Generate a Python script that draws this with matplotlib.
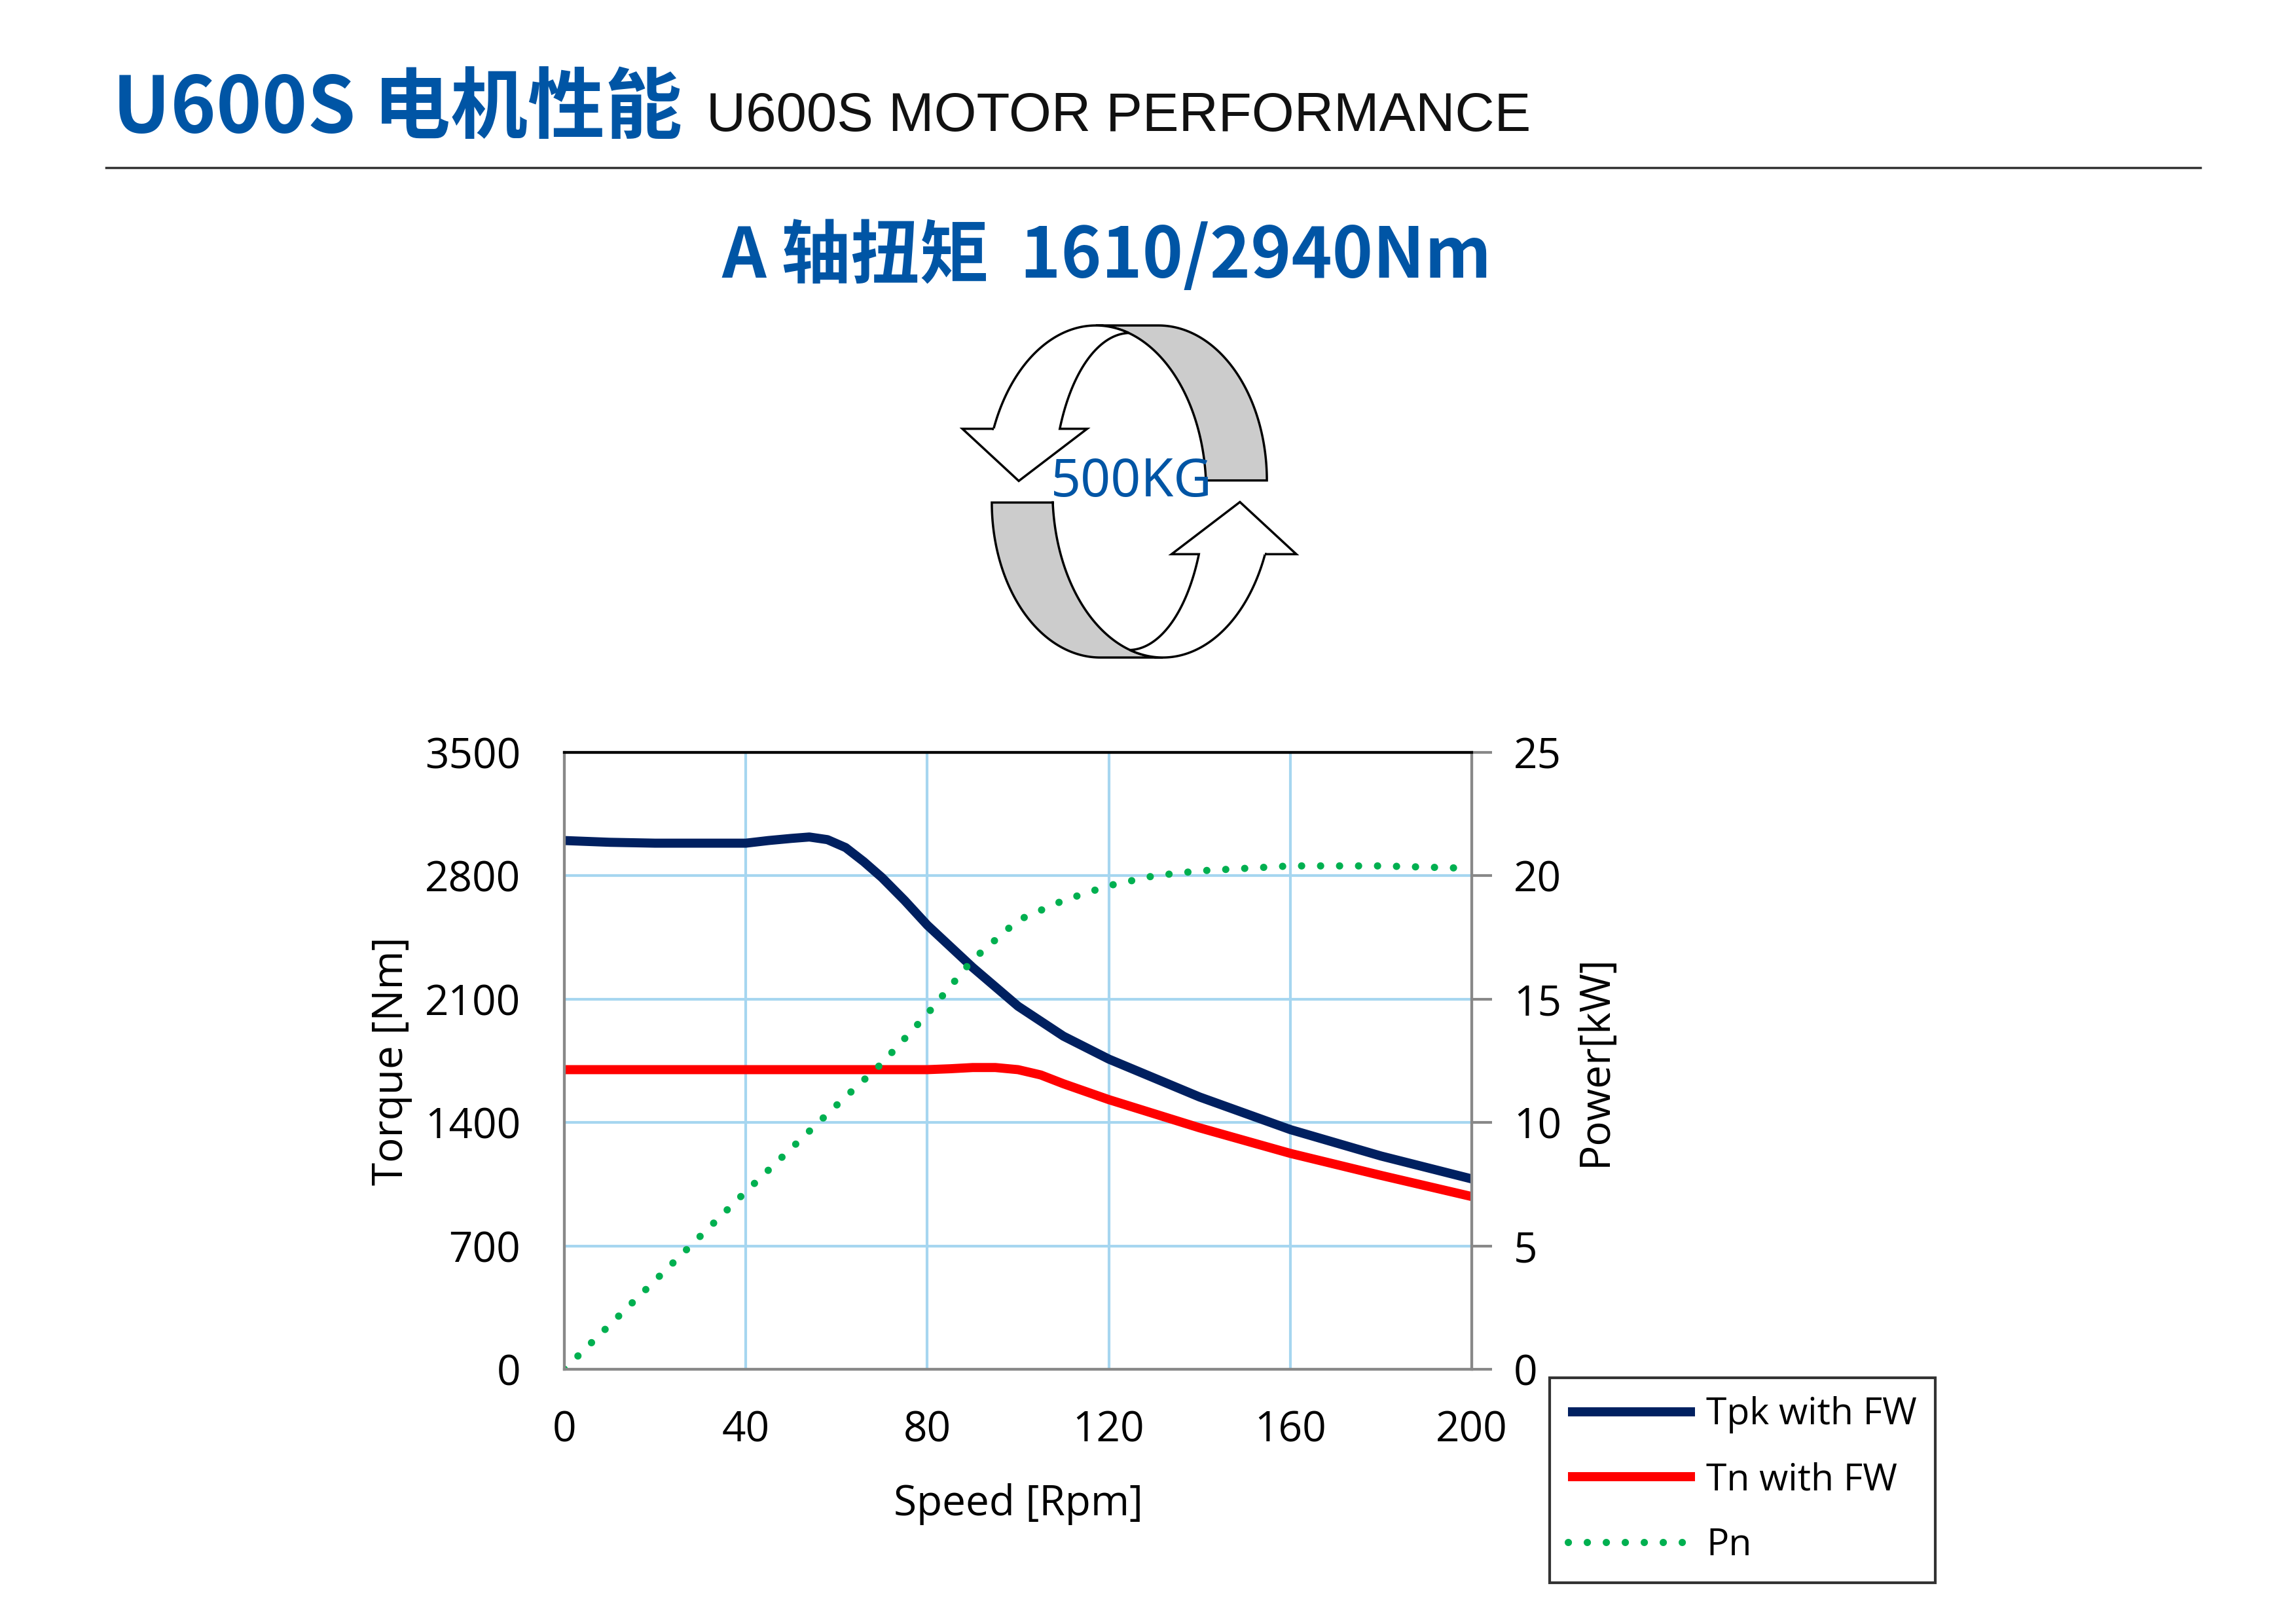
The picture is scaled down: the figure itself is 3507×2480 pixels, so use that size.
import numpy as np
import matplotlib
matplotlib.use("Agg")
import matplotlib.pyplot as plt
from matplotlib.patches import Polygon

plt.rcParams['font.family'] = ['Open Sans', 'Noto Sans CJK SC', 'DejaVu Sans']

BLUE = "#0055A5"

# curve data
tpk_rpm = [0, 10, 20, 30, 40, 45, 50, 54, 58, 62, 66, 70, 75, 80, 90, 100, 110, 120, 140, 160, 180, 200]
tpk_nm = [3000, 2990, 2985, 2985, 2985, 3000, 3012, 3020, 3005, 2960, 2880, 2790, 2660, 2520, 2280, 2060, 1890, 1760, 1545, 1360, 1210, 1080]
tn_rpm = [0, 20, 40, 60, 80, 85, 90, 95, 100, 105, 110, 120, 140, 160, 180, 200]
tn_nm = [1700, 1700, 1700, 1700, 1700, 1705, 1712, 1712, 1700, 1670, 1620, 1530, 1370, 1225, 1100, 980]
pn_rpm = [0, 20, 40, 60, 70, 80, 90, 100, 110, 120, 130, 140, 160, 180, 200]
pn_kw = [0, 3.6, 7.2, 10.7, 12.4, 14.4, 16.6, 18.2, 19.0, 19.6, 20.0, 20.2, 20.4, 20.4, 20.3]

x_ticks = [0, 40, 80, 120, 160, 200]
t_ticks = [0, 700, 1400, 2100, 2800, 3500]
p_ticks = [0, 5, 10, 15, 20, 25]

W, H = 3507, 2480
fig = plt.figure(figsize=(W / 100, H / 100), dpi=100)

# full-figure overlay in pixel units for header and icon
bg = fig.add_axes([0, 0, 1, 1])
bg.set_xlim(0, W)
bg.set_ylim(H, 0)
bg.axis("off")
bg.plot([162, 3361], [256, 256], color="#333333", lw=2.5)

fig.text(172 / W, 1 - 168 / H, "U600S 电机性能", color=BLUE, fontsize=85,
         fontweight="bold", va="center", family=['Noto Sans CJK SC', 'DejaVu Sans'])
fig.text(1079 / W, 1 - 178 / H, "U600S MOTOR PERFORMANCE", color="#111111", fontsize=60,
         va="center", family=['Liberation Sans', 'DejaVu Sans'])
fig.text(1690 / W, 1 - 393 / H, "A 轴扭矩  1610/2940Nm", color=BLUE, fontsize=76,
         fontweight="bold", ha="center", va="center",
         family=['Noto Sans CJK SC', 'DejaVu Sans'])


# rotating-arrows icon, drawn in local coordinates then mapped to pixels
def to_px(pts):
    pts = np.asarray(pts, float)
    return np.column_stack([1470 + (pts[:, 0] - 150) * 0.416,
                            497 + (pts[:, 1] - 110) * 0.383])


def arc(cx, cy, rx, ry, a0, a1, n=80):
    a = np.radians(np.linspace(a0, a1, n))
    return np.column_stack([cx + rx * np.cos(a), cy - ry * np.sin(a)])


def ang(cx, cy, rx, ry, y, left=True):
    s = (cy - y) / ry
    a = np.degrees(np.arcsin(np.clip(s, -1, 1)))
    return 180 - a if left else a


E1 = (640, 770, 405, 660)
E2 = (765, 770, 280, 630)
E3 = (870, 728, 398, 618)

gray = np.vstack([[[640, 110], [870, 110]],
                  arc(*E3, 90, 0),
                  [[1040, 728]],
                  arc(*E1, ang(*E1, 728, left=False), 90)])
a1_top = ang(*E1, 140, left=False)
white = np.vstack([[[150, 522], [265, 522]],
                   arc(*E1, ang(*E1, 522), a1_top),
                   arc(*E2, 92, ang(*E2, 522)),
                   [[608, 522], [357, 730]]])
C = np.array([763, 772])
for poly, fc in [(gray, "#cccccc"), (white, "white")]:
    for p in (poly, 2 * C - poly):
        bg.add_patch(Polygon(to_px(p), closed=True, fc=fc, ec="black", lw=2.5,
                             joinstyle="miter"))
bg.text(1728, 737, "500KG", color=BLUE, fontsize=58, fontweight="bold",
        ha="center", va="center", family=['Noto Sans', 'DejaVu Sans'])

# the chart itself
ax = fig.add_axes([862 / W, 1 - 2091 / H, (2248 - 862) / W, (2091 - 1149) / H])
ax2 = ax.twinx()

grid_c = "#a6d6f0"
for x in x_ticks[1:-1]:
    ax.axvline(x, color=grid_c, lw=3, zorder=0)
for t in t_ticks[1:-1]:
    ax.axhline(t, color=grid_c, lw=3, zorder=0)

l1, = ax.plot(tpk_rpm, tpk_nm, color="#002060", lw=10, solid_capstyle="butt", label="Tpk with FW")
l2, = ax.plot(tn_rpm, tn_nm, color="#FF0000", lw=10, solid_capstyle="butt", label="Tn with FW")
l3, = ax2.plot(pn_rpm, pn_kw, color="#00B050", lw=8, linestyle=(0, (0.01, 2.6)),
               dash_capstyle="round", label="Pn")
# dots on top of the torque curves
ax2.set_zorder(ax.get_zorder() + 1)
ax2.patch.set_visible(False)

ax.set_xlim(0, 200)
ax.set_ylim(0, 3500)
ax2.set_ylim(0, 25)
ax.set_xticks(x_ticks)
ax.set_yticks(t_ticks)
ax2.set_yticks(p_ticks)

for a in (ax, ax2):
    for s in a.spines.values():
        s.set_color("#888888")
        s.set_linewidth(3)
    a.spines["top"].set_color("black")
ax.tick_params(axis="both", length=0, labelsize=46, pad=48)
ax.tick_params(axis="x", pad=44)
ax2.tick_params(axis="y", length=22, width=3, color="#888888", labelsize=46, pad=24)

ax.set_ylabel("Torque [Nm]", fontsize=46, labelpad=14)
ax2.set_ylabel("Power[kW]", fontsize=46, labelpad=14)
ax.set_xlabel("Speed [Rpm]", fontsize=46, labelpad=35)

leg = fig.legend(handles=[l1, l2, l3], loc="upper left",
                 bbox_to_anchor=(2367 / W, 1 - 2104 / H),
                 fontsize=41, frameon=True, fancybox=False,
                 handlelength=3.4, handletextpad=0.3, labelspacing=0.75,
                 borderpad=0.5, borderaxespad=0)
leg.get_frame().set_edgecolor("black")
leg.get_frame().set_linewidth(3)

fig.savefig("out.png", dpi=100)
